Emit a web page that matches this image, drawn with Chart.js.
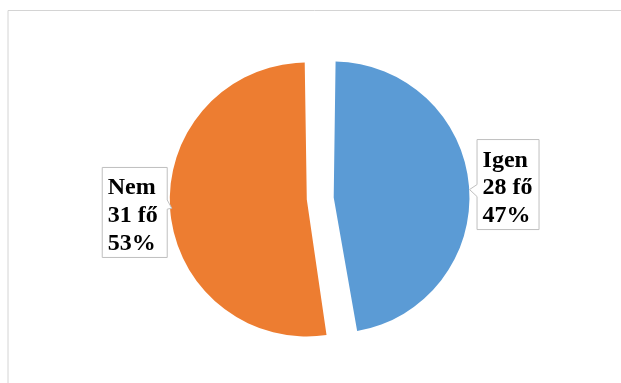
<!DOCTYPE html>
<html>
<head>
<meta charset="utf-8">
<script src="https://cdn.jsdelivr.net/npm/chart.js@4/dist/chart.umd.min.js"></script>
<style>
  html, body { margin: 0; padding: 0; background: #ffffff; }
  canvas { display: block; }
</style>
</head>
<body>
<canvas id="c" width="621" height="383"></canvas>
<script>
const categories = ["Igen", "Nem"];
const values = [28, 31];
const unit = "fő";
const colors = ["#5B9BD5", "#ED7D31"];

const framePlugin = {
  id: 'frame',
  beforeDraw(chart) {
    const ctx = chart.ctx;
    ctx.save();
    ctx.fillStyle = '#ffffff';
    ctx.fillRect(0, 0, chart.width, chart.height);
    ctx.strokeStyle = '#d4d4d4';
    ctx.lineWidth = 1;
    ctx.beginPath();
    ctx.moveTo(8, chart.height);
    ctx.lineTo(8, 10.5);
    ctx.lineTo(chart.width, 10.5);
    ctx.stroke();
    ctx.restore();
  }
};

const labelPlugin = {
  id: 'calloutLabels',
  afterDatasetsDraw(chart) {
    const ctx = chart.ctx;
    const meta = chart.getDatasetMeta(0);
    const data = chart.data.datasets[0].data;
    const total = data.reduce((a, b) => a + b, 0);
    ctx.save();
    ctx.font = 'bold 24px "Liberation Serif", "Times New Roman", serif';
    ctx.textBaseline = 'alphabetic';
    ctx.textAlign = 'left';
    meta.data.forEach((arc, i) => {
      const p = arc.getProps(['x', 'y', 'startAngle', 'endAngle', 'outerRadius', 'circumference']);
      const half = (p.startAngle + p.endAngle) / 2;
      const t = (arc.options.offset || 0) / 4;
      const fix = 1 - Math.sin(Math.min(Math.PI, p.circumference));
      const rd = p.outerRadius + t * fix;
      const cx = p.x + Math.cos(half) * t;
      const cy = p.y + Math.sin(half) * t;
      const ax = cx + Math.cos(half) * rd;
      const ay = cy + Math.sin(half) * rd;
      const lines = [
        chart.data.labels[i],
        data[i] + ' ' + unit,
        Math.round(data[i] / total * 100) + '%'
      ];
      const tw = Math.max(...lines.map(s => ctx.measureText(s).width));
      const right = Math.cos(half) >= 0;
      const w = tw + (right ? 12 : 15);
      const h = 90;
      let left, top;
      if (right) {
        left = ax + 8;
        top = ay - 47;
      } else {
        left = ax - 3 - w;
        top = ay - 43;
      }
      ctx.beginPath();
      if (right) {
        ctx.moveTo(left, top);
        ctx.lineTo(left + w, top);
        ctx.lineTo(left + w, top + h);
        ctx.lineTo(left, top + h);
        ctx.lineTo(left, ay + 10);
        ctx.lineTo(ax + 0.5, ay + 3);
        ctx.lineTo(left, ay - 2);
        ctx.closePath();
      } else {
        const r = left + w;
        ctx.moveTo(left, top);
        ctx.lineTo(r, top);
        ctx.lineTo(r, ay - 10.5);
        ctx.lineTo(ax + 1.5, ay - 2.3);
        ctx.lineTo(r, ay - 1.3);
        ctx.lineTo(r, top + h);
        ctx.lineTo(left, top + h);
        ctx.closePath();
      }
      ctx.fillStyle = '#ffffff';
      ctx.fill();
      ctx.strokeStyle = '#bfbfbf';
      ctx.lineWidth = 1;
      ctx.stroke();
      ctx.fillStyle = '#000000';
      lines.forEach((s, k) => {
        ctx.fillText(s, left + 5.5, top + 27 + k * 27.8);
      });
    });
    ctx.restore();
  }
};

new Chart(document.getElementById('c'), {
  type: 'pie',
  data: {
    labels: categories,
    datasets: [{
      data: values,
      backgroundColor: colors,
      borderWidth: 0,
      offset: [56, 52],
      radius: 124
    }]
  },
  options: {
    responsive: false,
    animation: false,
    events: [],
    devicePixelRatio: 1,
    layout: { padding: { left: 40, right: 21.5, top: 20, bottom: 6 } },
    plugins: {
      legend: { display: false },
      tooltip: { enabled: false }
    }
  },
  plugins: [framePlugin, labelPlugin]
});
</script>
</body>
</html>
